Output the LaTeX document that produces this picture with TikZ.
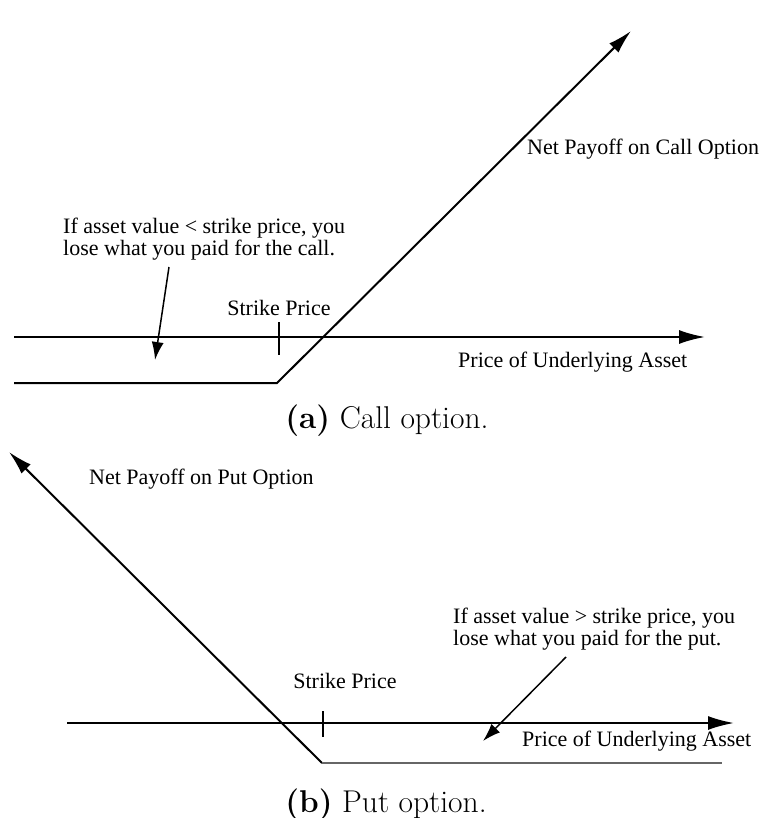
\documentclass[tikz,border=0pt]{standalone}
\usepackage{fontspec}
\newfontfamily\timesfont{Liberation Serif}
\usetikzlibrary{arrows.meta, positioning}

\tikzset{
  lbl/.style    = {font=\timesfont\fontsize{22}{22}\selectfont, inner sep=0pt},
  subcap/.style = {font=\fontsize{31.5}{34}\selectfont, inner sep=0pt},
  axis/.style   = {line width=2pt, -{Latex[length=26pt, width=14pt]}},
  payoff/.style = {line width=2pt},
  note/.style   = {line width=1.5pt, -{Latex[length=18pt, width=12pt]}},
}

\begin{document}
\begin{tikzpicture}[x=1pt, y=-1pt]

\useasboundingbox (0,0) rectangle (762,818);

% call option
\coordinate (ca0)  at (14,337);
\coordinate (ca1)  at (705,337);
\coordinate (cp0)  at (14,383);
\coordinate (ck)   at (277,383);
\coordinate (cp1)  at (631,31);
\coordinate (ct0)  at (279,322);
\coordinate (ct1)  at (279,355);
\coordinate (cn0)  at (169,267);
\coordinate (cn1)  at (155,360);

\node [lbl, anchor=west] (cnet)    at (527,149) {Net Payoff on Call Option};
\node [lbl, anchor=west, align=left] (cnote) at (63,239)
  {If asset value < strike price, you\\lose what you paid for the call.};
\node [lbl] (cstrike) at (279,308) {Strike Price};
\node [lbl, anchor=west] (cprice)  at (458,362) {Price of Underlying Asset};
\node [subcap] (capa) at (387,421) {\textbf{(a)} Call option.};

\draw [axis]   (ca0) -- (ca1);
\draw [payoff] (ct0) -- (ct1);
\draw [payoff, -{Latex[length=24pt, width=13pt]}] (cp0) -- (ck) -- (cp1);
\draw [note]   (cn0) -- (cn1);

% put option
\coordinate (pa0)  at (67,723);
\coordinate (pa1)  at (734,723);
\coordinate (pp0)  at (9,452);
\coordinate (pk)   at (322,763);
\coordinate (pp1)  at (722,763);
\coordinate (pt0)  at (323,711);
\coordinate (pt1)  at (323,737);
\coordinate (pn0)  at (566,657);
\coordinate (pn1)  at (483,741);

\node [lbl, anchor=west] (pnet)    at (89,479) {Net Payoff on Put Option};
\node [lbl, anchor=west, align=left] (pnote) at (453,629)
  {If asset value > strike price, you\\lose what you paid for the put.};
\node [lbl] (pstrike) at (345,681) {Strike Price};
\node [lbl, anchor=west] (pprice)  at (522,741) {Price of Underlying Asset};
\node [subcap] (capb) at (386,805) {\textbf{(b)} Put option.};

\draw [axis]   (pa0) -- (pa1);
\draw [payoff] (pt0) -- (pt1);
\draw [payoff, {Latex[length=24pt, width=13pt]}-] (pp0) -- (pk);
\draw [line width=1.2pt, black!60] (pk) -- (pp1);
\draw [note]   (pn0) -- (pn1);

\end{tikzpicture}
\end{document}
